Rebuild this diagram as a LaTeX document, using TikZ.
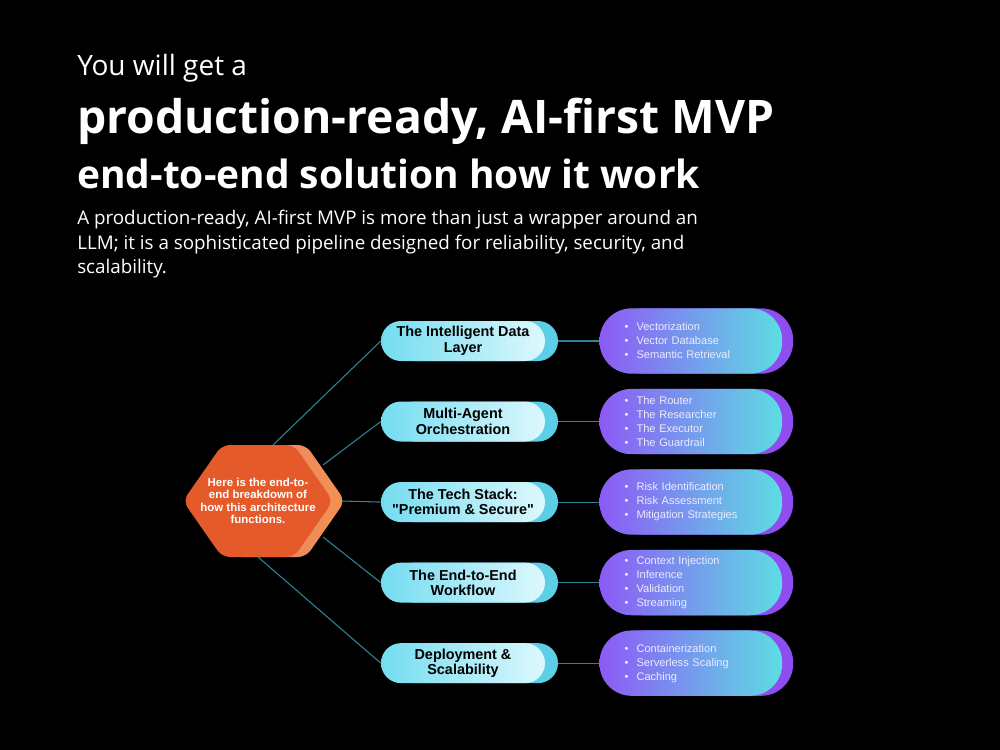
\documentclass[tikz,border=0pt]{standalone}
\usepackage{fontspec}
\setmainfont{Liberation Sans}[Ligatures=TeXOff]
\newfontfamily\headfont{Open Sans}
\usetikzlibrary{positioning,calc,shadows}

\definecolor{hexmain}{HTML}{E55A2B}
\definecolor{hexpink}{HTML}{DE7F7C}
\definecolor{hexglow}{HTML}{F4914F}
\definecolor{topicL}{HTML}{74DCF0}
\definecolor{topicR}{HTML}{DDF8FD}
\definecolor{topicS}{HTML}{5CCFE6}
\definecolor{itemL}{HTML}{8C5AF5}
\definecolor{itemR}{HTML}{5DDDE3}
\definecolor{itemS}{HTML}{8E4DF0}
\definecolor{itemtext}{HTML}{EDEBFF}
\definecolor{linkcol}{HTML}{2D8498}

\newcommand{\itembul}{\makebox[9pt][l]{\textbullet}}

\begin{document}
\begin{tikzpicture}[x=0.75pt, y=-0.75pt,
  node distance=30pt and 40.5pt,
  head/.style={anchor=base west, inner sep=0pt, text=white},
  topic/.style={rectangle, rounded corners=15pt, minimum width=123pt,
                minimum height=30pt, inner sep=0pt, align=center,
                font=\bfseries\fontsize{10.8}{11.6}\selectfont,
                left color=topicL, right color=topicR,
                copy shadow={shadow xshift=9.75pt, shadow yshift=0pt,
                             fill=topicS, draw=none}},
  items/.style={rectangle, rounded corners=24pt, minimum height=49pt,
                text width=99.5pt, inner xsep=18.75pt, inner ysep=0pt,
                align=left, font=\fontsize{8.3}{10.5}\selectfont,
                text=itemtext, left color=itemL, right color=itemR,
                copy shadow={shadow xshift=8.25pt, shadow yshift=0pt,
                             fill=itemS, draw=none}},
  hubtext/.style={inner sep=0pt, align=center, text=white,
                  font=\bfseries\fontsize{8.6}{9.3}\selectfont},
  link/.style={draw=linkcol, line width=0.8pt}
]
% background
\fill[black] (0,0) rectangle (1000,750);

% heading
\node[head, font=\headfont\fontsize{21}{25}\selectfont] (kicker) at (77,75) {You will get a};
\node[head, font=\headfont\bfseries\fontsize{34.7}{40}\selectfont] (title) at (77,133) {production-ready, AI-first MVP};
\node[head, font=\headfont\bfseries\fontsize{29.2}{34}\selectfont] (subtitle) at (77,188) {end-to-end solution how it work};
\node[head, anchor=north west, align=left,
      font=\headfont\fontsize{14.1}{18.4}\selectfont] (lede) at (77,210)
  {A production-ready, AI-first MVP is more than just a wrapper around an\\
   LLM; it is a sophisticated pipeline designed for reliability, security, and\\
   scalability.};

% hub hexagon
\fill[left color=hexpink, right color=hexglow, rounded corners=6pt]
  (195,501) -- (234,445) -- (306,445) -- (345,501) -- (306,557) -- (234,557) -- cycle;
\fill[hexmain, rounded corners=6pt]
  (183,501) -- (222,445) -- (294,445) -- (333,501) -- (294,557) -- (222,557) -- cycle;
\node[hubtext] (hub) at (258,501)
  {Here is the end-to-\\end breakdown of\\how this architecture\\functions.};

% topics
\node[topic] (m1) at (463,341) {The Intelligent Data\\Layer};
\node[topic, below=of m1] (m2) {Multi-Agent\\Orchestration};
\node[topic, below=of m2] (m3) {The Tech Stack:\\"Premium \& Secure"};
\node[topic, below=of m3] (m4) {The End-to-End\\Workflow};
\node[topic, below=of m4] (m5) {Deployment \&\\Scalability};

% details
\node[items, right=of m1] (r1) {\itembul Vectorization\\\itembul Vector Database\\\itembul Semantic Retrieval};
\node[items, right=of m2] (r2) {\itembul The Router\\\itembul The Researcher\\\itembul The Executor\\\itembul The Guardrail};
\node[items, right=of m3] (r3) {\itembul Risk Identification\\\itembul Risk Assessment\\\itembul Mitigation Strategies};
\node[items, right=of m4] (r4) {\itembul Context Injection\\\itembul Inference\\\itembul Validation\\\itembul Streaming};
\node[items, right=of m5] (r5) {\itembul Containerization\\\itembul Serverless Scaling\\\itembul Caching};

% connectors
\coordinate (h1) at ($(hub)+(15,-56)$);
\coordinate (h2) at ($(hub)+(65,-36)$);
\coordinate (h3) at ($(hub)+(84,0)$);
\coordinate (h4) at ($(hub)+(65,36)$);
\coordinate (h5) at ($(hub)+(0,56)$);
\foreach \i in {1,...,5}
  \draw[link] (h\i) -- (m\i.west);
\foreach \i in {1,...,5}
  \draw[link, shorten <=9.75pt] (m\i.east) -- (r\i.west);
\end{tikzpicture}
\end{document}
